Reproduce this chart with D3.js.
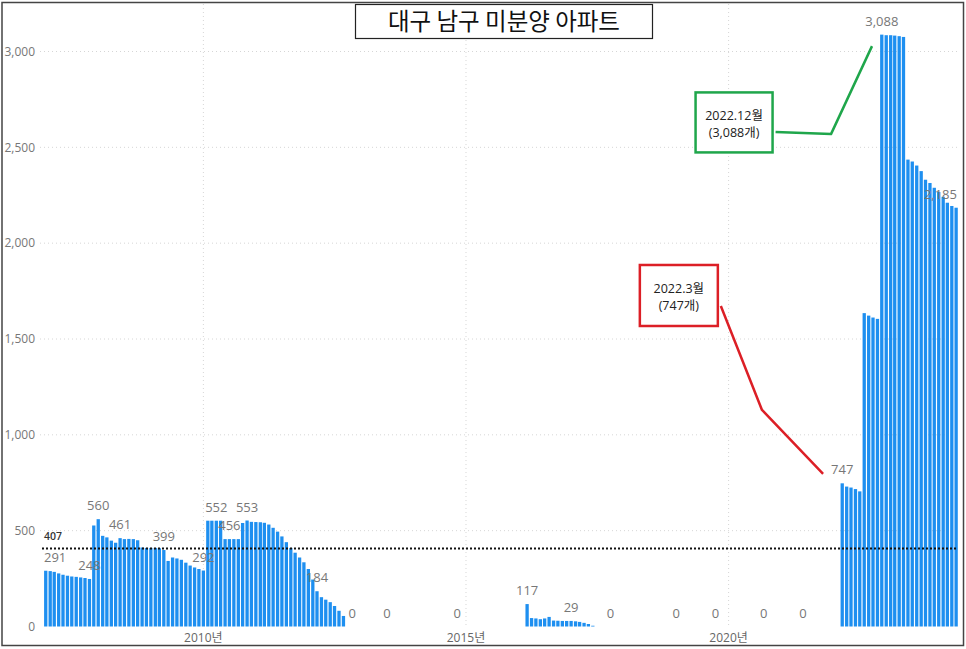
<!DOCTYPE html>
<html><head><meta charset="utf-8">
<script src="https://cdn.jsdelivr.net/npm/d3@7"></script>
<style>
html,body{margin:0;padding:0;background:#fff;}
svg{display:block;}
</style></head>
<body>
<svg id="chart" width="966" height="649"></svg>
<script>
// ---- DATA ----
const title = "대구 남구 미분양 아파트";
// monthly unsold apartments, segment 1: 2007-01 .. 2012-09
const seg1Start = "2007-01";
const seg1Values = [291, 289, 285, 277, 270, 265, 261, 259, 256, 253, 248,
  527, 560, 473, 465, 448, 437, 461, 456, 457, 456, 450, 412, 410, 410, 410, 408, 399,
  342, 360, 355, 348, 333, 318, 308, 300, 292,
  552, 552, 552, 552, 456, 456, 456, 456, 540, 553, 546, 545, 544, 541, 532,
  515, 495, 470, 440, 410, 385, 360, 335, 300, 245, 184, 153, 140, 127, 107, 82, 55];
// segment 2: 2016-03 .. 2017-06
const seg2Start = "2016-03";
const seg2Values = [117, 44, 42, 38, 42, 50, 31, 30, 29, 29, 29, 27, 24, 19, 13, 4];
// segment 3: 2022-03 .. 2024-05
const seg3Start = "2022-03";
const seg3Values = [747, 730, 725, 717, 705, 1635, 1622, 1612, 1605,
  3088, 3085, 3085, 3083, 3080, 3076,
  2436, 2426, 2405, 2376, 2331, 2314, 2289, 2267, 2242, 2211, 2194, 2185];
// months whose value is printed (0 = months without unsold units)
const labelMonths = ["2007-01","2007-11","2008-01","2008-06","2009-04","2010-01","2010-04","2010-07","2010-11",
  "2012-03","2012-11","2013-07","2014-11","2016-03","2017-01","2017-10","2019-01","2019-10","2020-09","2021-06",
  "2022-03","2022-12","2024-05"];
const labelValues = [291, 248, 560, 461, 399, 292, 552, 456, 553,
  184, 0, 0, 0, 117, 29, 0, 0, 0, 0, 0,
  747, 3088, 2185];
const averageValue = 407;
const yTicks = [0, 500, 1000, 1500, 2000, 2500, 3000];
const xTickYears = [2010, 2015, 2020];
const xTickSuffix = "년";
const annotations = [
  {lines:["2022.12월","(3,088개)"], color:"#1fa64b",
   box:{date:"2020-02-08", value:2630, w:77, h:60},
   path:[{date:"2021-12-13", value:2569},{date:"2022-09-24", value:3028}], startValue:2580},
  {lines:["2022.3월","(747개)"], color:"#dc1f26",
   box:{date:"2019-01-20", value:1727, w:78, h:61},
   path:[{date:"2020-08-20", value:1130},{date:"2021-10-19", value:796}], startValue:1672}
];

// ---- HELPERS ----
const parseMonth = d3.utcParse("%Y-%m");
const parseDay = d3.utcParse("%Y-%m-%d");
function expand(start, vals){
  const s = parseMonth(start);
  return vals.map((v,i)=>({date:d3.utcMonth.offset(s,i), value:v}));
}
const data = [].concat(expand(seg1Start,seg1Values), expand(seg2Start,seg2Values), expand(seg3Start,seg3Values));

const svg = d3.select("#chart");
const plotL = 42, plotR = 958, plotT = 4, plotB = 626.5;

const x = d3.scaleUtc().domain([Date.UTC(2006,11,6), Date.UTC(2024,4,14)]).range([plotL, plotR]);
const y = d3.scaleLinear().domain([0, 3000]).range([plotB, 51.5]);

const fontNum = "'Open Sans','Noto Sans CJK KR',sans-serif";
const fontKr = "'Noto Sans CJK KR','Noto Sans',sans-serif";

// horizontal grid
svg.append("g").selectAll("line").data(yTicks.filter(d=>d>0)).join("line")
  .attr("x1", 40).attr("x2", plotR).attr("y1", d=>y(d)).attr("y2", d=>y(d))
  .attr("stroke", "#d6d6d6").attr("stroke-width", 1).attr("stroke-dasharray", "1,3");
// vertical grid
svg.append("g").selectAll("line").data(xTickYears).join("line")
  .attr("x1", d=>x(Date.UTC(d,0,1))).attr("x2", d=>x(Date.UTC(d,0,1)))
  .attr("y1", plotT).attr("y2", plotB)
  .attr("stroke", "#d6d6d6").attr("stroke-width", 1).attr("stroke-dasharray", "1,3");

// y axis labels
svg.append("g").selectAll("text").data(yTicks).join("text")
  .attr("x", 35).attr("y", d=>y(d)).attr("dy", "0.35em")
  .attr("text-anchor", "end").attr("font-family", fontNum).attr("font-size", 12)
  .attr("fill", "#777").text(d=>d3.format(",")(d));

// x axis labels
svg.append("g").selectAll("text").data(xTickYears).join("text")
  .attr("x", d=>x(Date.UTC(d,0,1))).attr("y", 638).attr("dy", "0.35em")
  .attr("text-anchor", "middle").attr("font-family", fontNum).attr("font-size", 12)
  .attr("fill", "#666").text(d=>d + xTickSuffix);

// bars
const bw = 3.3;
svg.append("g").selectAll("rect").data(data.filter(d=>d.value>0)).join("rect")
  .attr("x", d=>x(d.date)-bw/2).attr("width", bw)
  .attr("y", d=>y(d.value)).attr("height", d=>plotB - y(d.value))
  .attr("fill", "#1e8ff0");

// average line
svg.append("line").attr("x1", plotL).attr("x2", plotR)
  .attr("y1", y(averageValue)).attr("y2", y(averageValue))
  .attr("stroke", "#111").attr("stroke-width", 2.2).attr("stroke-dasharray", "2,2");
svg.append("text").attr("x", plotL+2).attr("y", y(averageValue)-8)
  .attr("font-family", fontNum).attr("font-size", 10.5).attr("font-weight", 600)
  .attr("fill", "#333").text(d3.format(",")(averageValue));

// data labels
const lbl = svg.append("g").attr("font-family", fontNum).attr("font-size", 13).attr("fill", "#777");
labelMonths.forEach((m,i)=>{
  const v = labelValues[i];
  const cx = x(parseMonth(m));
  const t = lbl.append("text").attr("y", y(v)-9).attr("text-anchor","middle").text(d3.format(",")(v));
  const w = t.node().getComputedTextLength();
  let px = cx;
  if (px - w/2 < plotL+2) px = plotL+2 + w/2;
  if (px + w/2 > plotR-1) px = plotR-1 - w/2;
  t.attr("x", px);
});

// annotations
annotations.forEach(a=>{
  const bx = x(parseDay(a.box.date)), by = y(a.box.value);
  const left = bx - a.box.w/2, top = by - a.box.h/2;
  svg.append("rect").attr("x", left).attr("y", top).attr("width", a.box.w).attr("height", a.box.h)
    .attr("fill", "#fff").attr("stroke", a.color).attr("stroke-width", 2.5);
  a.lines.forEach((ln,j)=>{
    svg.append("text").attr("x", bx).attr("y", by - 7 + j*17)
      .attr("text-anchor","middle").attr("dy","0.35em")
      .attr("font-family", fontNum).attr("font-size", 12.5).attr("fill", "#222").text(ln);
  });
  const pts = [[left + a.box.w + 3, y(a.startValue)]].concat(a.path.map(p=>[x(parseDay(p.date)), y(p.value)]));
  svg.append("path").attr("d", d3.line()(pts)).attr("fill","none")
    .attr("stroke", a.color).attr("stroke-width", 2.5).attr("stroke-linejoin","round");
});

// title box
svg.append("rect").attr("x", 355.5).attr("y", 4.5).attr("width", 297).attr("height", 34)
  .attr("fill", "#fff").attr("stroke", "#222").attr("stroke-width", 1.2);
svg.append("text").attr("x", 504).attr("y", 21.5).attr("dy", "0.36em")
  .attr("text-anchor","middle").attr("font-family", fontKr).attr("font-size", 23.5)
  .attr("fill", "#111").text(title);

// outer border
svg.append("rect").attr("x", 2).attr("y", 2.5).attr("width", 961.5).attr("height", 643)
  .attr("fill", "none").attr("stroke", "#444").attr("stroke-width", 1.5);
</script>
</body></html>
